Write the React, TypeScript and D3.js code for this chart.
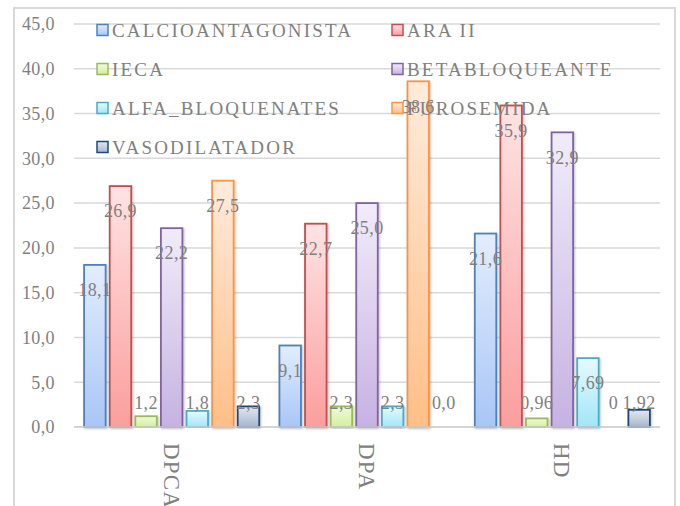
import React from 'react';
import * as d3 from 'd3';

const categories = ['DPCA', 'DPA', 'HD'];
const series = [
  'CALCIOANTAGONISTA',
  'ARA II',
  'IECA',
  'BETABLOQUEANTE',
  'ALFA_BLOQUENATES',
  'FUROSEMIDA',
  'VASODILATADOR',
];
// values per series, in category order (DPCA, DPA, HD)
const calcio = [18.1, 9.1, 21.6];
const araII = [26.9, 22.7, 35.9];
const ieca = [1.2, 2.3, 0.96];
const beta = [22.2, 25.0, 32.9];
const alfa = [1.8, 2.3, 7.69];
const furosemida = [27.5, 38.6, 0];
const vasodilatador = [2.3, 0.0, 1.92];
const values = [calcio, araII, ieca, beta, alfa, furosemida, vasodilatador];

// data labels as shown on the chart
const labelText = [
  ['18,1', '9,1', '21,6'],
  ['26,9', '22,7', '35,9'],
  ['1,2', '2,3', '0,96'],
  ['22,2', '25,0', '32,9'],
  ['1,8', '2,3', '7,69'],
  ['27,5', '38,6', '0'],
  ['2,3', '0,0', '1,92'],
];
const yTicks = [0, 5, 10, 15, 20, 25, 30, 35, 40, 45];

const strokes = ['#4f81bd', '#c0504d', '#9bbb59', '#8064a2', '#4bacc6', '#f79646', '#1f497d'];
const topFill = ['#e3edfd', '#ffe3e3', '#f0fadb', '#f1ecf9', '#e6fafe', '#ffebdc', '#e3e8f0'];
const bottomFill = ['#a9c6f6', '#fb9e9e', '#d3ef9e', '#c6b2e2', '#a2e6f7', '#ffbf88', '#a7b6cc'];

const W = 680;
const H = 506;
const font = 'Liberation Serif, DejaVu Serif, Times New Roman, serif';
const grey = '#808080';

export default function App() {
  const x0 = d3.scaleBand<string>().domain(categories).range([74, 660]);
  const x1 = d3
    .scaleBand<string>()
    .domain(series)
    .range([0, x0.bandwidth()])
    .paddingInner(0.16)
    .paddingOuter(0.395);
  const y = d3.scaleLinear().domain([0, 45]).range([427, 24]);

  return (
    <svg
      width={W}
      height={H}
      style={{ position: 'absolute', left: 0, top: 0, background: '#fff', fontFamily: font }}
    >
      <defs>
        {series.map((s, i) => (
          <linearGradient key={s} id={`g${i}`} x1="0" y1="0" x2="0" y2="1">
            <stop offset="0" stopColor={topFill[i]} />
            <stop offset="1" stopColor={bottomFill[i]} />
          </linearGradient>
        ))}
        <filter id="sh" x="-20%" y="-5%" width="140%" height="110%">
          <feDropShadow dx="1" dy="1" stdDeviation="1" floodColor="#000" floodOpacity="0.25" />
        </filter>
      </defs>

      <rect x={14} y={8} width={661} height={520} fill="#fff" stroke="#d9d9d9" strokeWidth={2} />

      {yTicks.map((t) => (
        <g key={t}>
          <line x1={74} x2={660} y1={y(t)} y2={y(t)} stroke="#d9d9d9" strokeWidth={1.5} />
          <text
            x={55}
            y={y(t)}
            dy="0.35em"
            textAnchor="end"
            fontSize={18}
            letterSpacing={0.4}
            fill={grey}
          >
            {t.toFixed(1).replace('.', ',')}
          </text>
        </g>
      ))}

      {categories.map((c, ci) => (
        <g key={c} transform={`translate(${x0(c)},0)`}>
          {series.map((s, si) => {
            const v = values[si][ci];
            if (v <= 0) return null;
            return (
              <rect
                key={s}
                x={x1(s)}
                y={y(v)}
                width={x1.bandwidth()}
                height={y(0) - y(v)}
                fill={`url(#g${si})`}
                stroke={strokes[si]}
                strokeWidth={1.8}
                filter="url(#sh)"
              />
            );
          })}
        </g>
      ))}

      <line x1={74} x2={660} y1={y(0)} y2={y(0)} stroke="#d0d0d0" strokeWidth={1.5} />

      {categories.map((c, ci) => (
        <g key={c} transform={`translate(${x0(c)},0)`}>
          {series.map((s, si) => {
            const v = values[si][ci];
            const cy = Math.min(y(v) + 25, y(0) - 24);
            return (
              <text
                key={s}
                x={(x1(s) ?? 0) + x1.bandwidth() / 2}
                y={cy}
                dy="0.35em"
                textAnchor="middle"
                fontSize={18}
                letterSpacing={0.4}
                fill={grey}
              >
                {labelText[si][ci]}
              </text>
            );
          })}
        </g>
      ))}

      {categories.map((c) => (
        <text
          key={c}
          transform={`translate(${(x0(c) ?? 0) + x0.bandwidth() / 2},443) rotate(90)`}
          dy="0.35em"
          fontSize={23}
          letterSpacing={1.2}
          fill={grey}
        >
          {c}
        </text>
      ))}

      {series.map((s, i) => {
        const col = i % 2;
        const row = Math.floor(i / 2);
        const lx = col === 0 ? 97 : 392;
        const ly = 30 + row * 39;
        return (
          <g key={s}>
            <rect
              x={lx}
              y={ly - 5.5}
              width={11}
              height={11}
              fill={`url(#g${i})`}
              stroke={strokes[i]}
              strokeWidth={1.5}
            />
            <text
              x={lx + 15}
              y={ly}
              dy="0.35em"
              fontSize={19}
              letterSpacing={2.2}
              fill={grey}
            >
              {s}
            </text>
          </g>
        );
      })}
    </svg>
  );
}
